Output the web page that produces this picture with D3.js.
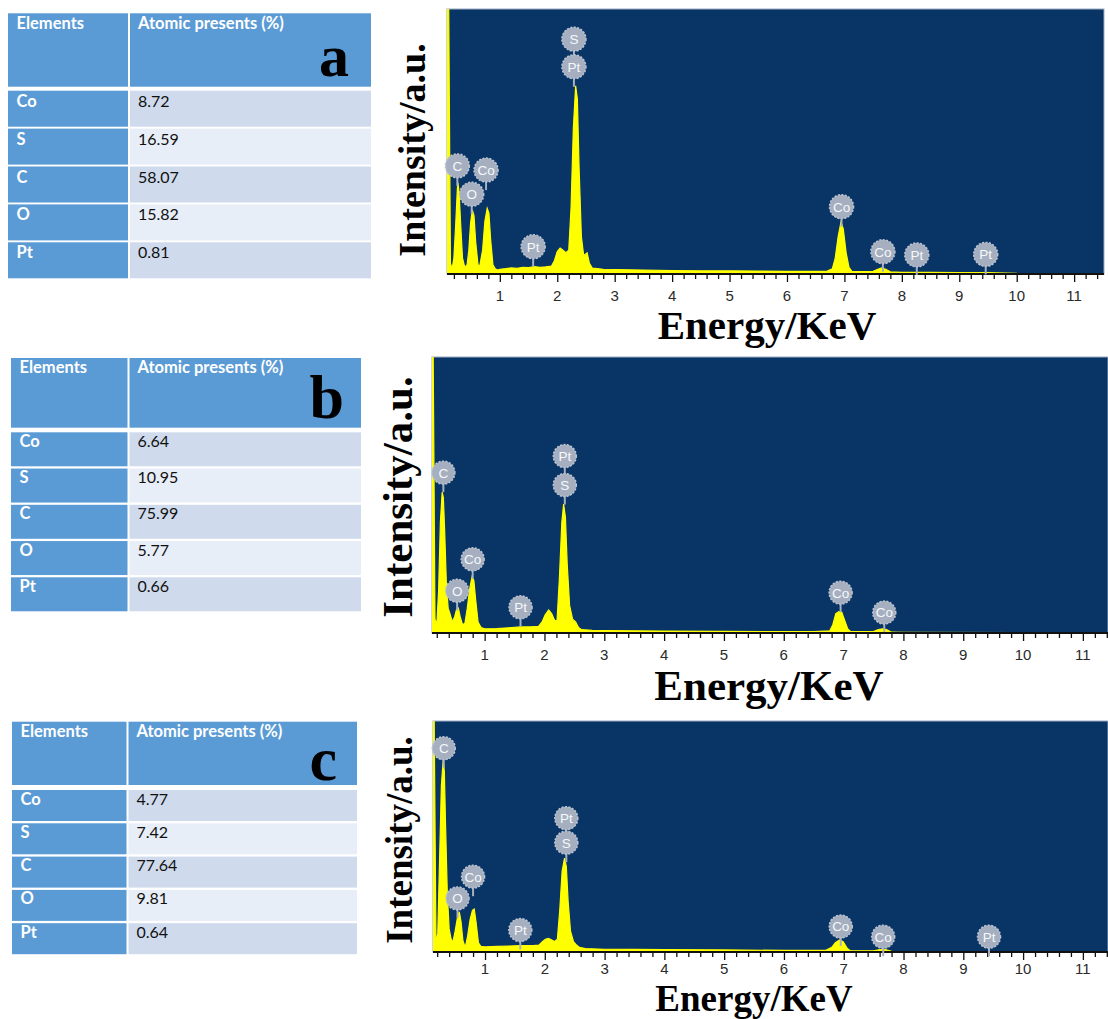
<!DOCTYPE html>
<html>
<head>
    <style>
        body { margin: 0; background: #fff; }
        .cell-text { font-family: Lato, "Open Sans", sans-serif; font-size: 16px; }
        .head-text { font-weight: bold; fill: #fff; font-size: 16.5px; }
        .tick-label { font-family: "Liberation Sans", Arial, sans-serif; font-size: 15px; fill: #2a2a2a; text-anchor: middle; }
        .axis-title { font-family: "Liberation Serif", "Times New Roman", serif; font-weight: bold; fill: #000; text-anchor: middle; }
        .badge text { font-family: "Liberation Sans", Arial, sans-serif; font-size: 13.5px; fill: #f6f8fb; text-anchor: middle; }
    </style>
    <script src="https://d3js.org/d3.v7.min.js"></script>
</head>
<body>
    <svg width="1108" height="1019"></svg>
    <script>

        // table data
        var headers = ["Elements", "Atomic presents (%)"];
        var elements = ["Co", "S", "C", "O", "Pt"];
        var atomicA = ["8.72", "16.59", "58.07", "15.82", "0.81"];
        var atomicB = ["6.64", "10.95", "75.99", "5.77", "0.66"];
        var atomicC = ["4.77", "7.42", "77.64", "9.81", "0.64"];

        var energyTicks = [1, 2, 3, 4, 5, 6, 7, 8, 9, 10, 11];

        // spectra, [energy keV, intensity a.u.]
        var spectrumA = [
            [0.08,100],[0.11,100],[0.14,4],[0.17,2],[0.20,6],[0.23,18],[0.26,32],[0.27,34.5],[0.29,31],[0.32,18],
            [0.35,6],[0.39,2.5],[0.43,3.5],[0.46,9],[0.49,19],[0.52,24.2],[0.55,22],[0.58,12],[0.62,3.5],[0.65,3],
            [0.70,9],[0.74,20],[0.78,24.8],[0.81,23],[0.84,13],[0.88,3.5],[0.92,2],[0.96,1.5],[1.0,1.8],[1.1,2],
            [1.2,2.3],[1.3,2.1],[1.4,2.5],[1.5,2.4],[1.6,2.8],[1.7,2.5],[1.8,2.7],[1.9,3],[1.95,5],[2.0,8.5],
            [2.05,9.8],[2.1,9],[2.15,8],[2.2,9],[2.24,25],[2.28,55],[2.32,71],[2.35,66],[2.38,40],[2.42,14],
            [2.46,7],[2.49,7.5],[2.52,8],[2.56,4],[2.61,2.2],[2.7,2],[2.8,1.8],[3.0,1.7],[3.5,1.5],[4.0,1.3],
            [4.5,1.2],[5.0,1.2],[5.5,1.1],[6.0,1.0],[6.5,1.0],[6.7,1.1],[6.79,2],[6.84,6],[6.89,14],[6.94,19.6],
            [6.98,17],[7.03,8],[7.08,2.5],[7.13,1.0],[7.3,0.9],[7.5,1],[7.58,1.8],[7.65,2.3],[7.72,1.8],[7.8,0.8],
            [8.0,0.6],[8.5,0.6],[9.0,0.5],[9.5,0.5],[10.0,0.2],[11.52,0.1]
        ];
        var spectrumB = [
            [0.12,100],[0.14,100],[0.17,5],[0.20,3],[0.23,15],[0.26,40],[0.29,51],[0.31,49],[0.33,38],[0.36,18],
            [0.39,9],[0.42,7],[0.46,4],[0.50,6],[0.53,8.5],[0.56,9],[0.59,6],[0.63,3],[0.67,3.5],[0.71,9],
            [0.75,16],[0.79,20.4],[0.82,19],[0.85,12],[0.89,4],[0.94,2],[1.0,1.5],[1.2,1.6],[1.4,1.9],[1.6,2.2],
            [1.8,2.3],[1.9,2.4],[1.96,4],[2.01,6.5],[2.07,8.3],[2.12,7],[2.17,4.5],[2.21,4.5],[2.25,20],[2.29,40],
            [2.32,46.7],[2.35,42],[2.38,25],[2.42,10],[2.47,5],[2.52,4],[2.57,2],[2.62,1.2],[2.8,1],[3.0,0.9],
            [3.5,0.8],[4.0,0.7],[5.0,0.6],[6.0,0.5],[6.5,0.5],[6.77,0.8],[6.82,3],[6.87,7],[6.92,7.7],[6.97,7.5],
            [7.02,4.5],[7.07,1.5],[7.12,0.5],[7.5,0.5],[7.58,1.2],[7.65,1.5],[7.72,1.2],[7.8,0.3],[8.0,0.2],[11.42,0.1]
        ];
        var spectrumC = [
            [0.13,100],[0.15,100],[0.18,4],[0.21,8],[0.24,40],[0.27,72],[0.30,83],[0.32,78],[0.34,55],[0.37,25],
            [0.40,10],[0.43,6],[0.46,4],[0.50,9],[0.54,15],[0.57,17.4],[0.60,13],[0.63,5],[0.67,2],[0.71,7],
            [0.75,14],[0.79,18],[0.82,18.6],[0.85,13],[0.89,4],[0.93,2.5],[1.0,2.2],[1.2,2.4],[1.4,2.6],[1.6,2.8],
            [1.8,2.8],[1.9,3],[1.96,4.5],[2.01,5.5],[2.06,5.9],[2.11,5.3],[2.16,4.5],[2.21,5.5],[2.25,18],[2.29,35],
            [2.33,40.6],[2.36,37],[2.39,22],[2.43,9],[2.48,4.5],[2.53,3],[2.58,2],[2.68,1.5],[3.0,1.2],[3.5,1.1],
            [4.0,1.0],[5.0,0.9],[6.0,0.7],[6.7,0.7],[6.8,2],[6.86,4],[6.93,5.2],[6.99,4.5],[7.06,1.5],[7.11,0.5],
            [7.5,0.5],[7.6,1],[7.7,1],[7.8,0.3],[11.42,0.1]
        ];

        // peak markers: [element, energy keV, marker height a.u.]
        var peaksA = [["S",2.29,88.6],["Pt",2.29,78.2],["C",0.26,40.8],["Co",0.76,39.2],["O",0.51,30.1],
                      ["Pt",1.58,10.3],["Co",6.95,25.4],["Co",7.67,8.4],["Pt",8.26,7.2],["Pt",9.46,7.4]];
        var peaksB = [["C",0.31,58.1],["Pt",2.34,64.1],["S",2.34,53.6],["Co",0.80,26.7],["O",0.54,15.3],
                      ["Pt",1.60,9.3],["Co",6.95,14.6],["Co",7.68,7.4]];
        var peaksC = [["C",0.31,88.2],["Pt",2.36,57.9],["S",2.36,47.3],["Co",0.80,32.6],["O",0.54,23.2],
                      ["Pt",1.59,9.5],["Co",6.95,11],["Co",7.66,6.6],["Pt",9.43,6.6]];

        var panels = [
            { letter: "a", values: atomicA, spectrum: spectrumA, peaks: peaksA,
              table: { x: 8, y: 13.3, w: 363, split: 129, headH: 73.4, rowY: 90.7, rowStep: 37.9, rowH: 36, headBase: 16, rowBase: 16, letterX: 349, letterY: 76, letterSize: 60 },
              plot: { dom: [0.08, 11.52], left: 447, right: 1104, top: 9, axis: 274, r: 12, labelDy: 27,
                      yTitle: [425, 150, 38], xTitle: [767, 339, 41] } },
            { letter: "b", values: atomicB, spectrum: spectrumB, peaks: peaksB,
              table: { x: 11, y: 358, w: 350, split: 128.5, headH: 69.7, rowY: 432.3, rowStep: 36.25, rowH: 34, headBase: 15, rowBase: 14.5, letterX: 344, letterY: 417.5, letterSize: 62 },
              plot: { dom: [0.12, 11.42], left: 432, right: 1108, top: 357, axis: 633, r: 11.5, labelDy: 26.5,
                      yTitle: [412, 497, 43], xTitle: [769, 700, 43] } },
            { letter: "c", values: atomicC, spectrum: spectrumC, peaks: peaksC,
              table: { x: 12, y: 721.7, w: 345, split: 127.5, headH: 63.3, rowY: 790, rowStep: 33.3, rowH: 31, headBase: 15, rowBase: 14.5, letterX: 337, letterY: 780, letterSize: 62 },
              plot: { dom: [0.13, 11.42], left: 433, right: 1108, top: 721, axis: 952, r: 11.5, labelDy: 22,
                      yTitle: [412, 840, 37], xTitle: [754, 1011, 37] } }
        ];

        var svg = d3.select("svg");
        var rowFills = ["#cfdbed", "#e8eef8"];

        panels.forEach(function(p, pi) {
            var t = p.table;
            var tg = svg.append("g").attr("class", "table");

            // header
            tg.append("rect").attr("x", t.x).attr("y", t.y).attr("width", t.split - t.x - 1).attr("height", t.headH).attr("fill", "#5b9bd5");
            tg.append("rect").attr("x", t.split + 1).attr("y", t.y).attr("width", t.x + t.w - t.split - 1).attr("height", t.headH).attr("fill", "#5b9bd5");
            tg.append("text").attr("class", "cell-text head-text").attr("x", t.x + 8.5).attr("y", t.y + t.headBase).text(headers[0]);
            tg.append("text").attr("class", "cell-text head-text").attr("x", t.split + 9).attr("y", t.y + t.headBase).text(headers[1]);

            var rows = tg.selectAll(".row").data(elements).enter().append("g").attr("class", "row");
            rows.append("rect")
                .attr("x", t.x).attr("y", function(d, i) { return t.rowY + i * t.rowStep; })
                .attr("width", t.split - t.x - 1).attr("height", t.rowH).attr("fill", "#5b9bd5");
            rows.append("rect")
                .attr("x", t.split + 1).attr("y", function(d, i) { return t.rowY + i * t.rowStep; })
                .attr("width", t.x + t.w - t.split - 1).attr("height", t.rowH)
                .attr("fill", function(d, i) { return rowFills[i % 2]; });
            rows.append("text").attr("class", "cell-text head-text")
                .attr("x", t.x + 8.5).attr("y", function(d, i) { return t.rowY + i * t.rowStep + t.rowBase; })
                .text(function(d) { return d; });
            rows.append("text").attr("class", "cell-text")
                .attr("x", t.split + 9).attr("y", function(d, i) { return t.rowY + i * t.rowStep + t.rowBase; })
                .attr("fill", "#111")
                .text(function(d, i) { return p.values[i]; });

            tg.append("text")
                .attr("x", t.letterX).attr("y", t.letterY)
                .attr("text-anchor", "end")
                .style("font-family", "'Liberation Serif', 'Times New Roman', serif")
                .style("font-weight", "bold")
                .style("font-size", t.letterSize + "px")
                .text(p.letter);

            // spectrum
            var c = p.plot;
            var x = d3.scaleLinear().domain(c.dom).range([c.left, c.right]);
            var y = d3.scaleLinear().domain([0, 100]).range([c.axis, c.top]);

            var g = svg.append("g").attr("class", "plot");
            var clipId = "clip" + pi;
            g.append("clipPath").attr("id", clipId).append("rect")
                .attr("x", c.left).attr("y", c.top).attr("width", c.right - c.left).attr("height", c.axis - c.top);

            g.append("rect")
                .attr("x", c.left).attr("y", c.top).attr("width", c.right - c.left).attr("height", c.axis - c.top)
                .attr("fill", "#083466").attr("stroke", "#9aabc2").attr("stroke-width", 1);

            var area = d3.area()
                .x(function(d) { return x(d[0]); })
                .y0(y(0))
                .y1(function(d) { return y(d[1]); })
                .curve(d3.curveLinear);

            g.append("path")
                .datum(p.spectrum)
                .attr("clip-path", "url(#" + clipId + ")")
                .attr("d", area)
                .attr("fill", "#ffff00")
                .attr("stroke", "#ffff00")
                .attr("stroke-width", 1.2);

            // axis
            var minor = d3.range(0.2, c.dom[1] + 0.001, 0.2).filter(function(v) { return v >= c.dom[0]; });
            var axis = d3.axisBottom(x).tickValues(minor).tickSize(5).tickFormat("");
            var ag = g.append("g").attr("transform", "translate(0," + c.axis + ")").call(axis);
            ag.select(".domain").attr("stroke", "#111").attr("stroke-width", 2).attr("d", "M" + c.left + ",0H" + c.right);
            ag.selectAll(".tick line").attr("stroke", "#111").attr("stroke-width", 1.3);
            ag.selectAll(".tick").filter(function(d) { return Math.abs(d - Math.round(d)) < 0.01; })
                .select("line").attr("y2", 8);

            g.selectAll(".tick-label").data(energyTicks).enter().append("text")
                .attr("class", "tick-label")
                .attr("x", function(d) { return x(d); })
                .attr("y", c.axis + c.labelDy)
                .text(function(d) { return d; });

            // peak markers
            var bg = g.append("g").attr("class", "badge");
            bg.selectAll("line").data(p.peaks).enter().append("line")
                .attr("x1", function(d) { return x(d[1]); })
                .attr("x2", function(d) { return x(d[1]); })
                .attr("y1", function(d) { return y(d[2]); })
                .attr("y2", function(d) { return y(d[2]) + c.r + 8; })
                .attr("stroke", "#a7b1c1").attr("stroke-width", 2);
            var b = bg.selectAll("g").data(p.peaks).enter().append("g")
                .attr("transform", function(d) { return "translate(" + x(d[1]) + "," + y(d[2]) + ")"; });
            b.append("circle").attr("r", c.r)
                .attr("fill", "#a5afbf")
                .attr("stroke", "#bcc4d1").attr("stroke-width", 1.5).attr("stroke-dasharray", "2,1.5");
            b.append("text").attr("dy", "0.36em").text(function(d) { return d[0]; });

            // titles
            svg.append("text").attr("class", "axis-title")
                .attr("transform", "translate(" + c.yTitle[0] + "," + c.yTitle[1] + ") rotate(-90)")
                .style("font-size", c.yTitle[2] + "px")
                .text("Intensity/a.u.");
            svg.append("text").attr("class", "axis-title")
                .attr("x", c.xTitle[0]).attr("y", c.xTitle[1])
                .style("font-size", c.xTitle[2] + "px")
                .text("Energy/KeV");
        });

    </script>
</body>
</html>
